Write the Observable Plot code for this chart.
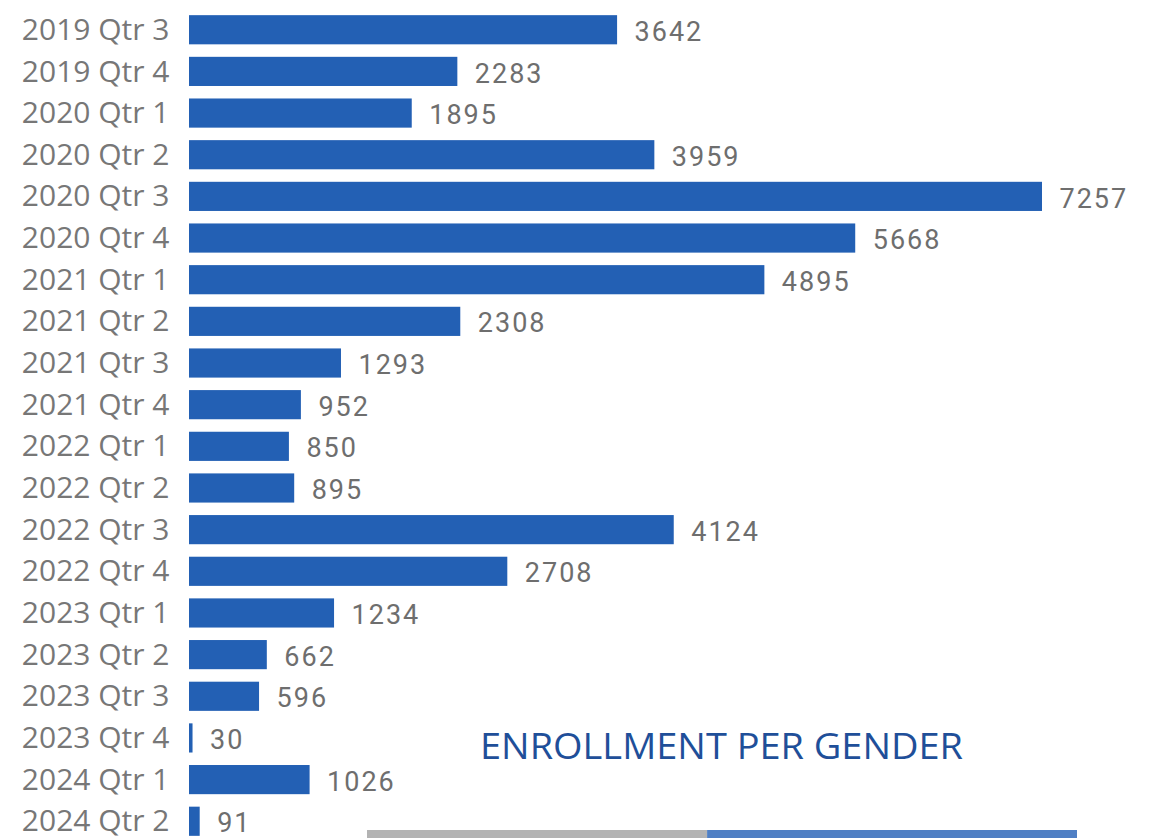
<!DOCTYPE html>
<html>
<head>
<meta charset="utf-8">
<script src="https://cdn.jsdelivr.net/npm/d3@7"></script>
<script src="https://cdn.jsdelivr.net/npm/@observablehq/plot@0.6"></script>
<style>
  html, body { margin: 0; padding: 0; background: #fff; overflow: hidden; width: 1149px; height: 838px; }
  #wrap { position: relative; width: 1149px; height: 838px; }
  #main, #gender, #title { position: absolute; left: 0; }
  #main { top: 0; }
  #gender { top: 830px; }
  #title { top: 0; }
</style>
</head>
<body>
<div id="wrap">
  <div id="main"></div>
  <div id="gender"></div>
  <svg id="title" width="1149" height="838" style="pointer-events:none"></svg>
</div>
<script>
const quarters = ["2019 Qtr 3","2019 Qtr 4","2020 Qtr 1","2020 Qtr 2","2020 Qtr 3","2020 Qtr 4",
  "2021 Qtr 1","2021 Qtr 2","2021 Qtr 3","2021 Qtr 4","2022 Qtr 1","2022 Qtr 2","2022 Qtr 3",
  "2022 Qtr 4","2023 Qtr 1","2023 Qtr 2","2023 Qtr 3","2023 Qtr 4","2024 Qtr 1","2024 Qtr 2"];
const enrollments = [3642,2283,1895,3959,7257,5668,4895,2308,1293,952,850,895,4124,2708,1234,662,596,30,1026,91];

const genders = ["Female","Male"];
const genderShare = [47.9, 52.1];

const titleText = "ENROLLMENT PER GENDER";

const rows = quarters.map((q, i) => ({quarter: q, value: enrollments[i]}));
const gRows = genders.map((g, i) => ({gender: g, share: genderShare[i]}));

const main = Plot.plot({
  width: 1149,
  height: 840,
  marginLeft: 189,
  marginRight: 107,
  marginTop: 11,
  marginBottom: 0,
  style: {fontFamily: "'Open Sans', sans-serif", fontSize: "30px", color: "#777", background: "#fff"},
  x: {domain: [0, d3.max(enrollments)], axis: null},
  y: {domain: quarters, paddingInner: 0.3, paddingOuter: 0.1, round: false, label: null, tickSize: 0, tickPadding: 20},
  marks: [
    Plot.axisY({tickSize: 0, tickPadding: 20, label: null, fill: "#777", fontSize: 30}),
    Plot.barX(rows, {x: "value", y: "quarter", fill: "#2360b4"}),
    Plot.text(rows, {x: "value", y: "quarter", text: d => String(d.value), textAnchor: "start", dx: 17, dy: 2,
      fill: "#6e6e6e", fontFamily: "Roboto, sans-serif", fontSize: 27, fontWeight: 400})
  ]
});
document.getElementById("main").appendChild(main);
d3.select(main).selectAll("g[aria-label='text'] text").attr("letter-spacing", "2px");

const gender = Plot.plot({
  width: 1149,
  height: 20,
  marginLeft: 367,
  marginRight: 72,
  marginTop: 0,
  marginBottom: 0,
  x: {domain: [0, d3.sum(genderShare)], axis: null},
  y: {axis: null},
  color: {domain: genders, range: ["#b3b3b3", "#4f7fc4"]},
  marks: [
    Plot.barX(gRows, Plot.stackX({x: "share", fill: "gender", order: null}))
  ]
});
document.getElementById("gender").appendChild(gender);

d3.select("#title").append("text")
  .attr("x", 480).attr("y", 759)
  .attr("textLength", 483).attr("lengthAdjust", "spacingAndGlyphs")
  .attr("font-family", "'Open Sans', sans-serif")
  .attr("font-size", 37)
  .attr("fill", "#1f4f99")
  .text(titleText);
</script>
</body>
</html>
